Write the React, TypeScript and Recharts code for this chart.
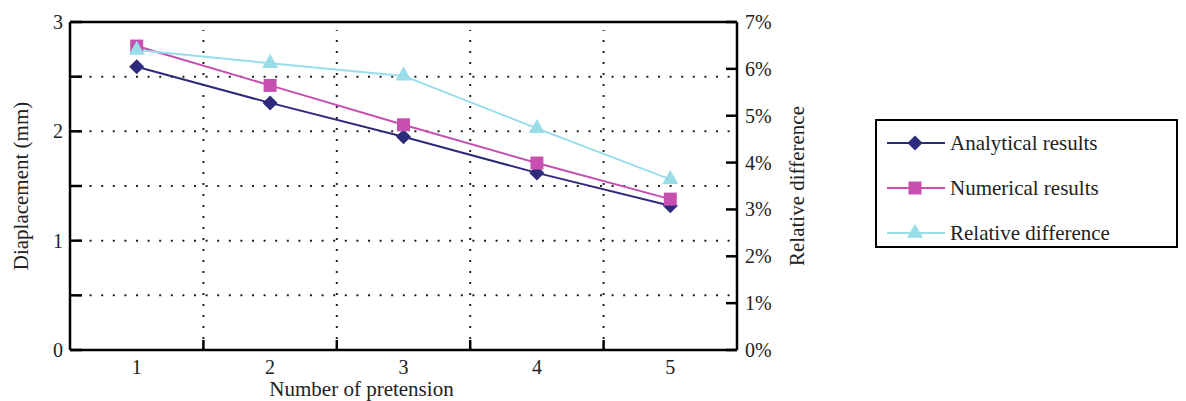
import React from 'react';
import { ComposedChart, Line, XAxis, YAxis, CartesianGrid, ReferenceLine, Legend } from 'recharts';

// Number of pretension steps (x axis)
const pretensionCounts = [1, 2, 3, 4, 5];
// Mid-span displacement in mm
const analyticalResults = [2.59, 2.26, 1.95, 1.62, 1.32];
const numericalResults = [2.78, 2.42, 2.06, 1.71, 1.38];
// Relative difference between the two methods (fraction)
const relativeDifference = [0.064, 0.0612, 0.0585, 0.0473, 0.0364];

const displacementTicks = [0, 0.5, 1, 1.5, 2, 2.5, 3];
const differenceTicks = [0, 0.01, 0.02, 0.03, 0.04, 0.05, 0.06, 0.07];
const groupBoundaries = [1.5, 2.5, 3.5, 4.5];

const FONT = '"Liberation Serif", "Times New Roman", serif';
const AXIS_COLOR = '#000';

type MarkerShape = 'diamond' | 'square' | 'triangle';

const series: { key: string; name: string; color: string; marker: MarkerShape; axis: string }[] = [
  { key: 'analytical', name: 'Analytical results', color: '#2e2a7c', marker: 'diamond', axis: 'left' },
  { key: 'numerical', name: 'Numerical results', color: '#c64fb0', marker: 'square', axis: 'left' },
  { key: 'relative', name: 'Relative difference', color: '#98dde8', marker: 'triangle', axis: 'right' },
];

const data = pretensionCounts.map((n, i) => ({
  n,
  analytical: analyticalResults[i],
  numerical: numericalResults[i],
  relative: relativeDifference[i],
}));

function markerPath(shape: MarkerShape, cx: number, cy: number): string {
  if (shape === 'diamond') {
    const h = 7.5;
    return `M${cx},${cy - h}L${cx + h},${cy}L${cx},${cy + h}L${cx - h},${cy}Z`;
  }
  if (shape === 'square') {
    const h = 6.5;
    return `M${cx - h},${cy - h}H${cx + h}V${cy + h}H${cx - h}Z`;
  }
  const w = 8;
  const ht = 14;
  return `M${cx},${cy - (ht * 2) / 3}L${cx + w},${cy + ht / 3}L${cx - w},${cy + ht / 3}Z`;
}

const makeDot = (shape: MarkerShape, color: string, key: string) => (p: any) => {
  if (p.cx == null || p.cy == null) return <g key={`${key}-${p.index}`} />;
  return <path key={`${key}-${p.index}`} d={markerPath(shape, p.cx, p.cy)} fill={color} stroke="none" />;
};

const LeftTick = (p: any) => {
  const v = p.payload.value as number;
  const whole = Math.abs(v - Math.round(v)) < 1e-9;
  return (
    <g>
      <line x1={p.x} x2={p.x + 12} y1={p.y} y2={p.y} stroke={AXIS_COLOR} strokeWidth={2.5} />
      {whole && (
        <text x={p.x - 7} y={p.y} textAnchor="end" dominantBaseline="central" fontFamily={FONT} fontSize={20} fill="#222">
          {v}
        </text>
      )}
    </g>
  );
};

const RightTick = (p: any) => {
  const v = p.payload.value as number;
  return (
    <g>
      <line x1={p.x} x2={p.x - 11} y1={p.y} y2={p.y} stroke={AXIS_COLOR} strokeWidth={2.5} />
      <text x={p.x + 8} y={p.y} textAnchor="start" dominantBaseline="central" fontFamily={FONT} fontSize={20} fill="#222">
        {`${Math.round(v * 100)}%`}
      </text>
    </g>
  );
};

const BottomTick = (p: any) => (
  <text x={p.x} y={p.y + 24} textAnchor="middle" fontFamily={FONT} fontSize={20} fill="#222">
    {p.payload.value}
  </text>
);

// Dotted separator between categories with a short solid tick at the bottom axis
const BoundaryLine = (p: any) => {
  const bottom = Math.max(p.y1, p.y2);
  const top = Math.min(p.y1, p.y2);
  return (
    <g>
      <line x1={p.x1} x2={p.x2} y1={bottom} y2={top + 8} stroke="#222" strokeWidth={2} strokeDasharray="2 9" />
      <line x1={p.x1} x2={p.x1} y1={bottom} y2={bottom - 10} stroke={AXIS_COLOR} strokeWidth={2.5} />
    </g>
  );
};

const LegendBox = () => (
  <div
    style={{
      width: 303,
      height: 129,
      boxSizing: 'border-box',
      border: '2px solid #000',
      background: '#fff',
      fontFamily: FONT,
      fontSize: 21,
      color: '#222',
      position: 'relative',
    }}
  >
    {series.map((s, i) => (
      <div
        key={s.key}
        style={{ position: 'absolute', left: 8, top: 22 + i * 45 - 14, height: 28, display: 'flex', alignItems: 'center' }}
      >
        <svg width={62} height={28} style={{ display: 'block' }}>
          <line x1={2} x2={60} y1={14} y2={14} stroke={s.color} strokeWidth={2} />
          <path d={markerPath(s.marker, 30, 14)} fill={s.color} />
        </svg>
        <span style={{ marginLeft: 3, whiteSpace: 'nowrap' }}>{s.name}</span>
      </div>
    ))}
  </div>
);

export default function App() {
  return (
    <div style={{ width: 1178, height: 393 }}>
      <ComposedChart width={1178} height={393} data={data} margin={{ top: 14, right: 329, bottom: 0, left: 0 }}>
        <CartesianGrid
          yAxisId="left"
          vertical={false}
          stroke="#222"
          strokeWidth={2}
          strokeDasharray="2 9.6"
          strokeDashoffset={-8}
        />
        <XAxis
          dataKey="n"
          type="number"
          domain={[0.5, 5.5]}
          ticks={pretensionCounts}
          interval={0}
          height={51}
          tickLine={false}
          tickSize={0}
          tickMargin={0}
          axisLine={{ stroke: AXIS_COLOR, strokeWidth: 2.5 }}
          tick={<BottomTick />}
          label={(p: any) => {
            const vb = p.viewBox;
            return (
              <text x={vb.x + vb.width / 2 - 42} y={vb.y + 46} textAnchor="middle" fontFamily={FONT} fontSize={21} fill="#222">
                Number of pretension
              </text>
            );
          }}
        />
        <YAxis
          yAxisId="left"
          orientation="left"
          width={62}
          domain={[0, 3]}
          ticks={displacementTicks}
          interval={0}
          tickLine={false}
          tickSize={0}
          tickMargin={0}
          axisLine={{ stroke: AXIS_COLOR, strokeWidth: 2.5 }}
          tick={<LeftTick />}
          label={(p: any) => {
            const vb = p.viewBox;
            const cx = vb.x + 13;
            const cy = vb.y + vb.height / 2;
            return (
              <text
                x={cx}
                y={cy}
                transform={`rotate(-90 ${cx} ${cy})`}
                textAnchor="middle"
                dominantBaseline="central"
                fontFamily={FONT}
                fontSize={21}
                fill="#222"
              >
                Diaplacement (mm)
              </text>
            );
          }}
        />
        <YAxis
          yAxisId="right"
          orientation="right"
          width={120}
          domain={[0, 0.07]}
          ticks={differenceTicks}
          interval={0}
          tickLine={false}
          tickSize={0}
          tickMargin={0}
          axisLine={{ stroke: AXIS_COLOR, strokeWidth: 2.5 }}
          tick={<RightTick />}
          label={(p: any) => {
            const vb = p.viewBox;
            const cx = vb.x + 60;
            const cy = vb.y + vb.height / 2;
            return (
              <text
                x={cx}
                y={cy}
                transform={`rotate(-90 ${cx} ${cy})`}
                textAnchor="middle"
                dominantBaseline="central"
                fontFamily={FONT}
                fontSize={21}
                fill="#222"
              >
                Relative difference
              </text>
            );
          }}
        />
        {groupBoundaries.map((b) => (
          <ReferenceLine key={b} x={b} yAxisId="left" shape={<BoundaryLine />} />
        ))}
        <ReferenceLine y={3} yAxisId="left" stroke={AXIS_COLOR} strokeWidth={2.5} />
        {series.map((s) => (
          <Line
            key={s.key}
            yAxisId={s.axis}
            dataKey={s.key}
            name={s.name}
            type="linear"
            stroke={s.color}
            strokeWidth={2}
            dot={makeDot(s.marker, s.color, s.key)}
            activeDot={false}
            isAnimationActive={false}
          />
        ))}
        <Legend
          layout="horizontal"
          verticalAlign="middle"
          align="center"
          wrapperStyle={{ left: 867, top: 111, width: 303, height: 129 }}
          content={() => <LegendBox />}
        />
      </ComposedChart>
    </div>
  );
}
